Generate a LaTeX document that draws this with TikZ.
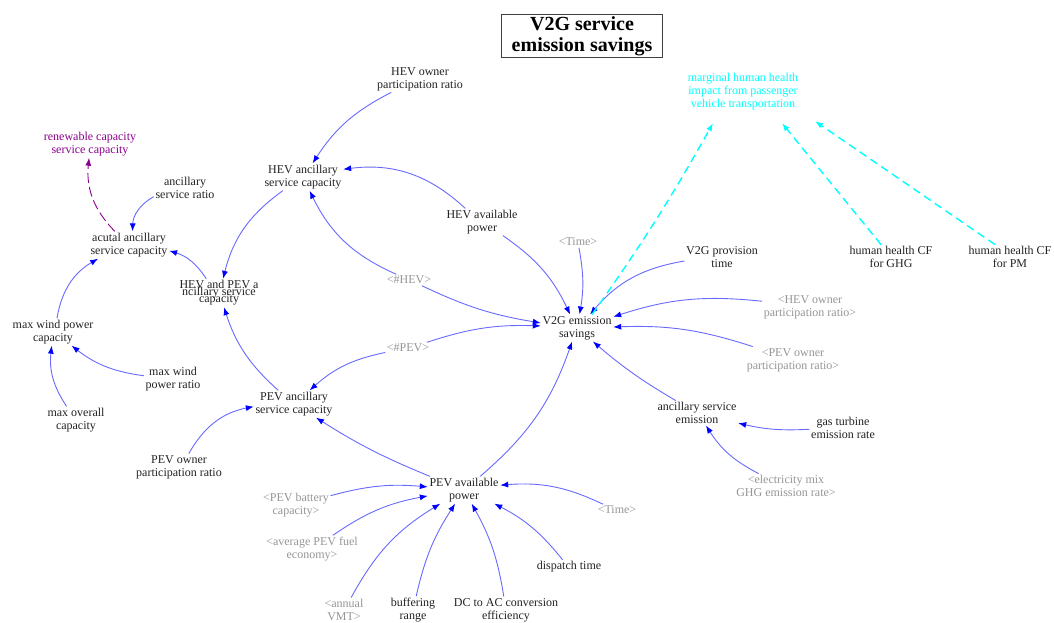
\documentclass[tikz,border=0pt]{standalone}
\usepackage{fontspec}
\setmainfont{Liberation Serif}
\usetikzlibrary{arrows.meta}
\definecolor{lnblue}{RGB}{105,105,255}
\definecolor{hdblue}{RGB}{0,0,255}
\definecolor{shgray}{RGB}{150,150,150}
\definecolor{txtc}{RGB}{35,35,35}
\definecolor{cyn}{RGB}{0,255,255}
\definecolor{purp}{RGB}{140,0,140}
\newcommand\mytightls{\lineskiplimit=-100pt\relax}
\begin{document}
\begin{tikzpicture}[x=1pt,y=1pt,
 var/.style={align=center,font=\fontsize{12}{13}\selectfont,text=txtc,inner sep=1.5pt},
 shd/.style={var,text=shgray},
 lk/.style={draw=lnblue,line width=0.9pt,-{Latex[length=8pt,width=6pt,color=hdblue]}},
 ck/.style={draw=cyn,line width=1.4pt,dash pattern=on 8pt off 5pt,-{Latex[length=8pt,width=6pt,color=cyn]}},
 pk/.style={draw=purp,line width=0.9pt,dash pattern=on 10pt off 4pt,-{Latex[length=8pt,width=6pt,color=purp]}},
]
\fill[white] (0,0) rectangle (1054,-623);
\useasboundingbox (0,0) rectangle (1054,-623);

\node[draw=black!75,line width=0.8pt,font=\bfseries\fontsize{20}{21}\selectfont,align=center,minimum width=161pt,minimum height=43pt,inner sep=0pt] (title) at (582,-36) {V2G service\\emission savings};

\node[var] (hop) at (420,-79) {HEV owner\\participation ratio};
\node[var] (hac) at (303,-177) {HEV ancillary\\service capacity};
\node[var,text=purp] (ren) at (90,-144) {renewable capacity\\service capacity};
\node[var] (asr) at (185,-188) {ancillary\\service ratio};
\node[var] (aac) at (129,-245) {acutal ancillary\\service capacity};
\node[var,font=\fontsize{12}{7}\selectfont\mytightls] (hpc) at (219,-293) {HEV and PEV a\\ncillary service\\capacity};
\node[var] (mwc) at (53,-332) {max wind power\\capacity};
\node[var] (mwr) at (173,-379) {max wind\\power ratio};
\node[var] (moc) at (76,-420) {max overall\\capacity};
\node[var] (pac) at (294,-404) {PEV ancillary\\service capacity};
\node[var] (pop) at (179,-467) {PEV owner\\participation ratio};
\node[var] (hap) at (482,-222) {HEV available\\power};
\node[shd] (t1) at (578,-242) {\textless Time\textgreater};
\node[shd] (nh) at (409,-280) {\textless\#HEV\textgreater};
\node[shd] (np) at (408,-348) {\textless\#PEV\textgreater};
\node[var] (v2g) at (577,-328) {V2G emission\\savings};
\node[var] (vpt) at (722,-257) {V2G provision\\time};
\node[var] (hg) at (891,-257) {human health CF\\for GHG};
\node[var] (hpm) at (1010,-257) {human health CF\\for PM};
\node[var,text=cyn] (mhh) at (743,-92) {marginal human health\\impact from passenger\\vehicle transportation};
\node[shd] (shop) at (810,-307) {\textless HEV owner\\participation ratio\textgreater};
\node[shd] (spop) at (793,-360) {\textless PEV owner\\participation ratio\textgreater};
\node[var] (ase) at (697,-413) {ancillary service\\emission};
\node[var] (gte) at (843,-428) {gas turbine\\emission rate};
\node[shd] (emx) at (786,-486) {\textless electricity mix\\GHG emission rate\textgreater};
\node[var] (pap) at (464,-490) {PEV available\\power};
\node[shd] (pbc) at (296,-505) {\textless PEV battery\\capacity\textgreater};
\node[shd] (afe) at (312,-549) {\textless average PEV fuel\\economy\textgreater};
\node[shd] (vmt) at (344,-610) {\textless annual\\VMT\textgreater};
\node[var] (buf) at (413,-610) {buffering\\range};
\node[var] (dca) at (506,-610) {DC to AC conversion\\efficiency};
\node[var] (dsp) at (569,-567) {dispatch time};
\node[shd] (t2) at (617,-510) {\textless Time\textgreater};

\draw[lk] (hop) to[bend right=15] (hac);
\draw[lk] (hap) to[bend right=25] (hac);
\draw[lk] (nh) to[bend left=20] (hac);
\draw[lk] (nh) to[bend right=8] (v2g);
\draw[lk] (hac) to[bend right=20] (hpc);
\draw[lk] (hpc) to[bend right=20] (aac);
\draw[lk] (pac) to[bend left=15] (hpc);
\draw[lk] (asr) to[bend right=30] (aac);
\draw[pk] (aac) to[bend left=25] (ren);
\draw[lk] (mwc) to[bend left=25] (aac);
\draw[lk] (mwr) to[bend left=15] (mwc);
\draw[lk] (moc) to[bend left=20] (mwc);
\draw[lk] (pop) to[bend left=25] (pac);
\draw[lk] (np) to[bend right=15] (pac);
\draw[lk] (np) to[bend left=10] (v2g);
\draw[lk] (pap) to[bend left=5] (pac);
\draw[lk] (pap) to[bend right=15] (v2g);
\draw[lk] (hap) to[bend left=15] (v2g);
\draw[lk] (t1) to[bend left=10] (v2g);
\draw[lk] (vpt) to[bend right=20] (v2g);
\draw[lk] (shop) to[bend right=12] (v2g);
\draw[lk] (spop) to[bend right=10] (v2g);
\draw[lk] (ase) to[bend left=5] (v2g);
\draw[lk] (gte) to[bend left=8] (ase);
\draw[lk] (emx) to[bend left=15] (ase);
\draw[ck] ([xshift=15pt]v2g.north) to[bend right=3] ([xshift=-30pt,yshift=-11pt]mhh.south);
\draw[ck] ([xshift=-10pt]hg.north) -- ([xshift=39pt,yshift=-11pt]mhh.south);
\draw[ck] ([xshift=-15pt]hpm.north) -- ([xshift=72pt,yshift=-9pt]mhh.south);
\draw[lk] (pbc) to[bend left=10] (pap);
\draw[lk] (afe) to[bend left=12] (pap);
\draw[lk] (vmt) to[bend left=15] (pap);
\draw[lk] (buf) to[bend left=10] (pap);
\draw[lk] (dca) to[bend right=10] (pap);
\draw[lk] (dsp) to[bend right=12] (pap);
\draw[lk] (t2) to[bend right=15] (pap);
\end{tikzpicture}
\end{document}
